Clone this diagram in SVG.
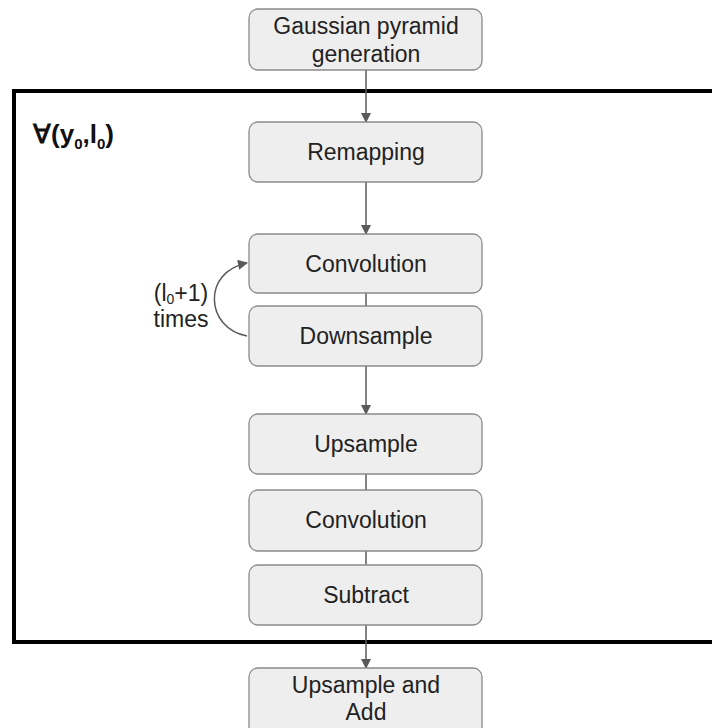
<svg xmlns="http://www.w3.org/2000/svg" width="712" height="728" viewBox="0 0 712 728">
<defs>
<style>
.box{fill:#eeeeee;stroke:#8a8a8a;stroke-width:1.3}
.t{font-family:"Liberation Sans",Arial,sans-serif;font-size:23px;fill:#222;text-anchor:middle}
.c{stroke:#5a5a5a;stroke-width:1.5;fill:none}
</style>
<marker id="ah2" viewBox="0 0 10 10" refX="9" refY="5" markerWidth="12" markerHeight="10" orient="auto" markerUnits="userSpaceOnUse">
<path d="M0,0 L10,5 L0,10 z" fill="#5a5a5a"/>
</marker>
</defs>
<rect width="712" height="728" fill="#ffffff"/>
<rect id="frame" x="14" y="91" width="704" height="551" fill="none" stroke="#000" stroke-width="4"/>
<text x="33" y="143" font-family="'Liberation Sans',Arial,sans-serif" font-size="26" font-weight="bold" fill="#111">∀(y<tspan font-size="15" dy="6">0</tspan><tspan dy="-6">,l</tspan><tspan font-size="15" dy="6">0</tspan><tspan dy="-6">)</tspan></text>
<g id="connectors">
<line class="c" x1="366" y1="70" x2="366" y2="122" marker-end="url(#ah2)"/>
<line class="c" x1="366" y1="182" x2="366" y2="234" marker-end="url(#ah2)"/>
<line class="c" x1="366" y1="293" x2="366" y2="306"/>
<line class="c" x1="366" y1="366" x2="366" y2="414" marker-end="url(#ah2)"/>
<line class="c" x1="366" y1="474" x2="366" y2="490"/>
<line class="c" x1="366" y1="551" x2="366" y2="565"/>
<line class="c" x1="366" y1="625" x2="366" y2="668" marker-end="url(#ah2)"/>
<path class="c" d="M247,336 C205,328 202,272 247,263" marker-end="url(#ah2)"/>
</g>
<g id="loop-label">
<text class="t" x="181" y="301">(l<tspan font-size="14" dy="3">0</tspan><tspan dy="-3">+1)</tspan></text>
<text class="t" x="181" y="327">times</text>
</g>
<g id="n1"><rect class="box" x="249" y="9" width="233" height="61" rx="9"/><text class="t" x="366" y="34">Gaussian pyramid</text><text class="t" x="366" y="62">generation</text></g>
<g id="n2"><rect class="box" x="249" y="122" width="233" height="60" rx="9"/><text class="t" x="366" y="160">Remapping</text></g>
<g id="n3"><rect class="box" x="249" y="234" width="233" height="59" rx="9"/><text class="t" x="366" y="272">Convolution</text></g>
<g id="n4"><rect class="box" x="249" y="306" width="233" height="60" rx="9"/><text class="t" x="366" y="344">Downsample</text></g>
<g id="n5"><rect class="box" x="249" y="414" width="233" height="60" rx="9"/><text class="t" x="366" y="452">Upsample</text></g>
<g id="n6"><rect class="box" x="249" y="490" width="233" height="61" rx="9"/><text class="t" x="366" y="528">Convolution</text></g>
<g id="n7"><rect class="box" x="249" y="565" width="233" height="60" rx="9"/><text class="t" x="366" y="603">Subtract</text></g>
<g id="n8"><rect class="box" x="249" y="668" width="233" height="70" rx="9"/><text class="t" x="366" y="693">Upsample and</text><text class="t" x="366" y="720">Add</text></g>
</svg>
